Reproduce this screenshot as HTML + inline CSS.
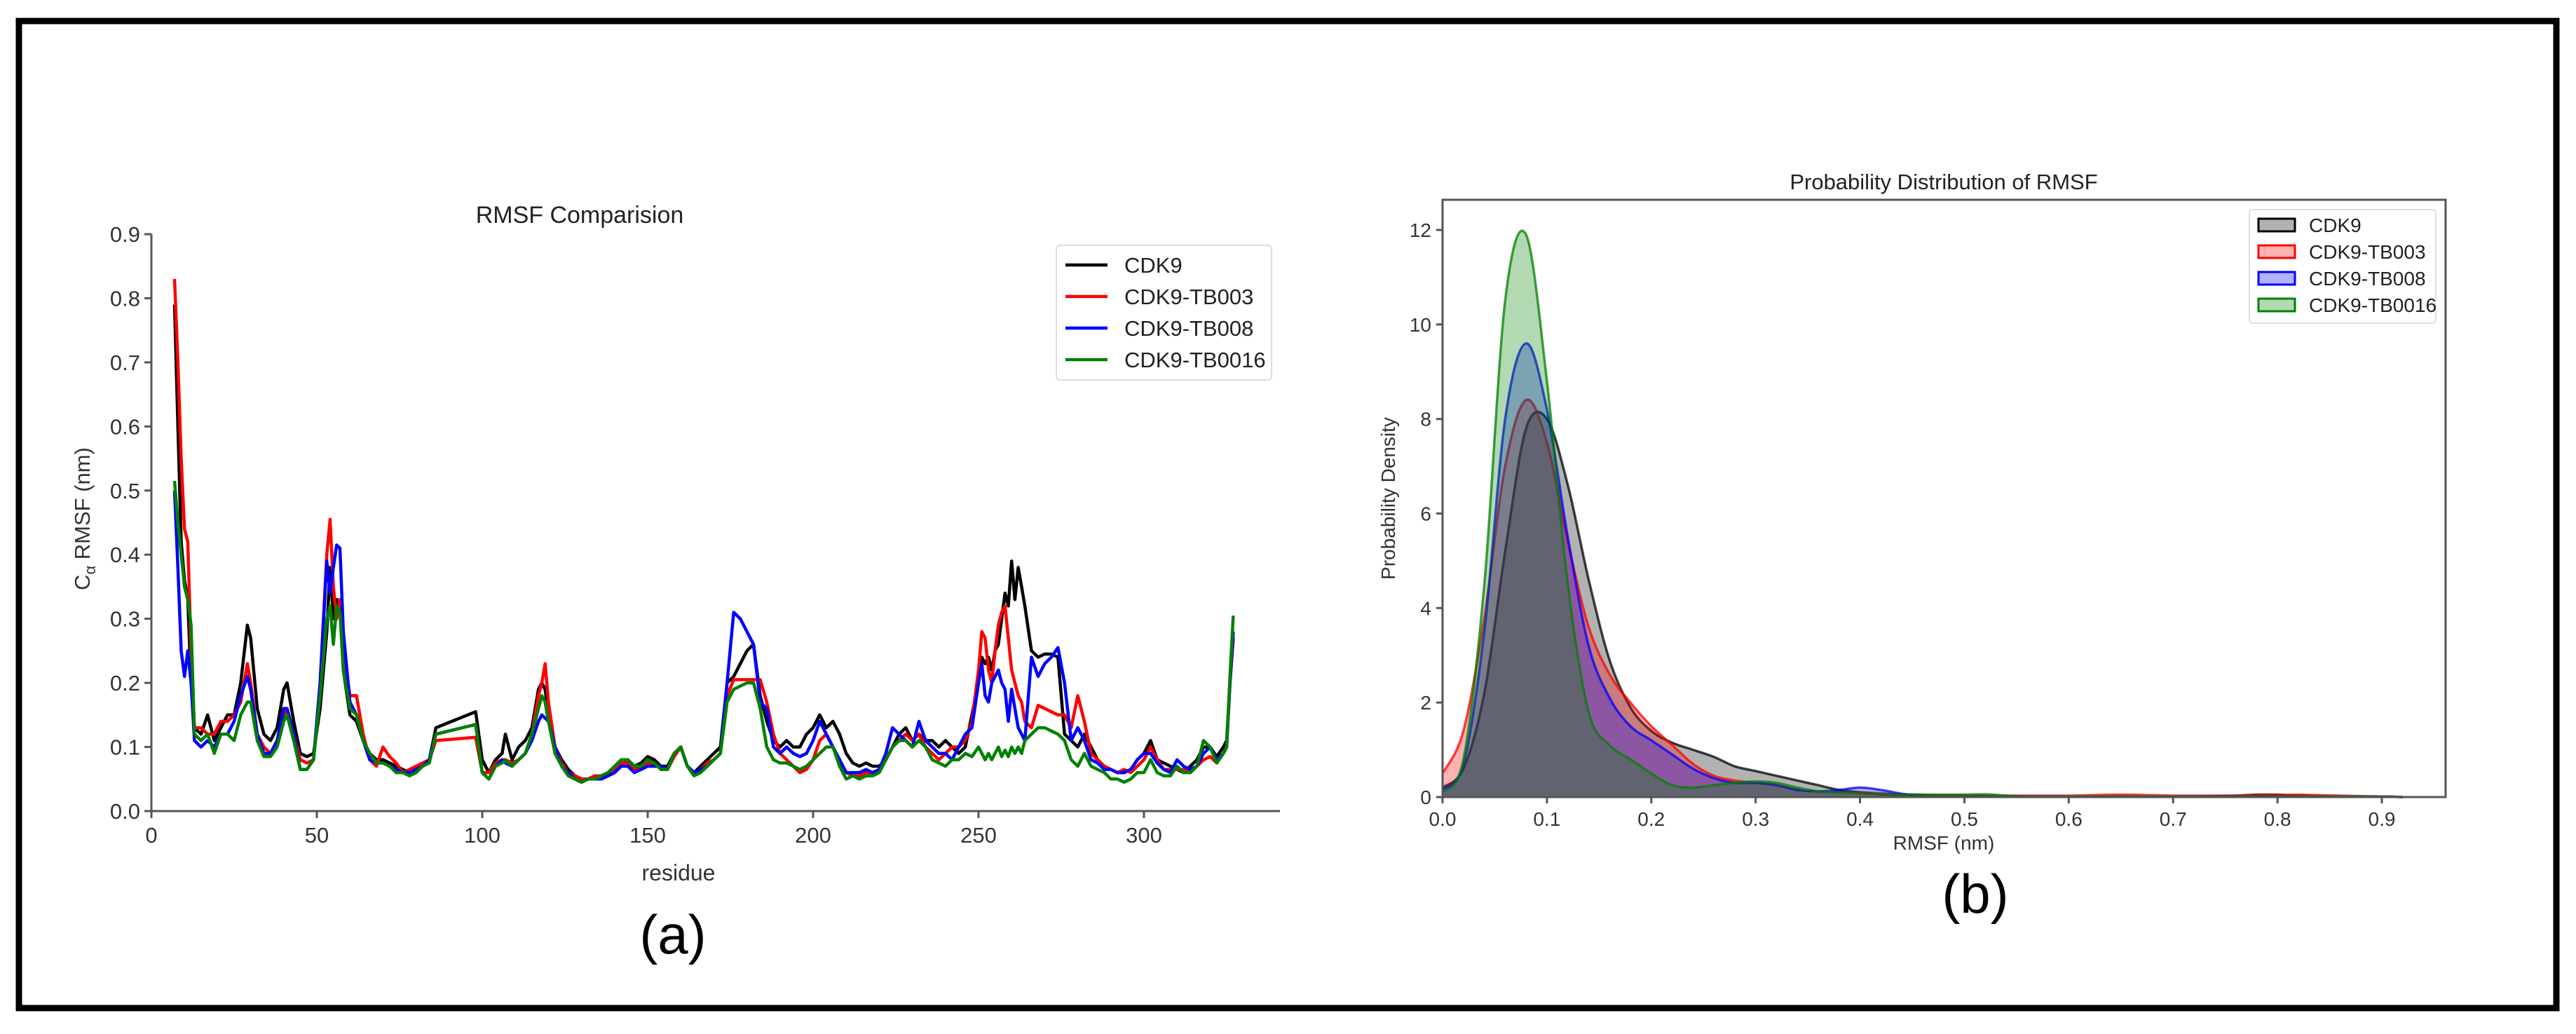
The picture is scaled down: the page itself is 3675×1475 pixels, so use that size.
<!DOCTYPE html>
<html><head><meta charset="utf-8"><style>
html,body{margin:0;padding:0;background:#fff;}
svg{display:block;font-family:"Liberation Sans","DejaVu Sans",sans-serif;}
</style></head><body>
<svg id="fig" width="3675" height="1475" viewBox="0 0 3675 1475" xmlns="http://www.w3.org/2000/svg">
<rect x="0" y="0" width="3675" height="1475" fill="#fff"/>
<rect x="27" y="30" width="3620" height="1408" fill="none" stroke="#000" stroke-width="9"/>
<g id="left"></g>
<g id="right"></g>
</svg>
<script>
const residues=[7,8,9,10,11,12,13,15,17,19,21,23,25,27,29,30,32,34,36,38,40,41,43,45,47,49,51,53,54,55,56,57,58,60,62,64,66,68,70,72,74,76,78,80,82,84,86,98,100,102,104,106,107,109,111,113,115,117,118,119,120,122,124,126,128,130,132,134,136,138,140,142,144,146,148,150,152,154,156,158,160,162,164,166,168,170,172,174,176,178,180,182,184,186,188,190,192,194,196,198,200,202,204,206,208,210,212,214,216,218,220,222,224,226,228,230,232,234,236,238,240,242,244,246,248,250,251,252,253,254,255,256,257,258,259,260,261,262,263,264,266,268,270,272,274,276,278,280,282,284,286,288,290,292,294,296,298,300,302,304,306,308,310,312,314,316,318,320,322,324,325,326,327];
const rmsfCDK9=[0.79,0.60,0.42,0.36,0.33,0.20,0.13,0.12,0.15,0.11,0.13,0.15,0.15,0.20,0.29,0.27,0.16,0.12,0.11,0.13,0.19,0.20,0.14,0.09,0.085,0.09,0.16,0.28,0.38,0.30,0.33,0.32,0.22,0.15,0.14,0.11,0.09,0.08,0.08,0.075,0.07,0.065,0.06,0.065,0.07,0.08,0.13,0.155,0.08,0.06,0.08,0.09,0.12,0.08,0.10,0.11,0.13,0.19,0.20,0.19,0.15,0.10,0.08,0.065,0.055,0.05,0.05,0.05,0.05,0.055,0.06,0.07,0.08,0.07,0.075,0.085,0.08,0.07,0.07,0.09,0.10,0.07,0.06,0.07,0.08,0.09,0.10,0.20,0.21,0.23,0.25,0.26,0.18,0.14,0.11,0.10,0.11,0.10,0.10,0.12,0.13,0.15,0.13,0.14,0.12,0.09,0.075,0.07,0.075,0.07,0.07,0.08,0.10,0.12,0.13,0.11,0.12,0.11,0.11,0.10,0.11,0.10,0.09,0.10,0.15,0.20,0.24,0.23,0.24,0.22,0.25,0.26,0.30,0.34,0.32,0.39,0.33,0.38,0.35,0.32,0.25,0.24,0.245,0.245,0.24,0.12,0.11,0.10,0.12,0.10,0.08,0.07,0.065,0.06,0.06,0.065,0.08,0.09,0.11,0.08,0.075,0.07,0.065,0.06,0.07,0.08,0.10,0.10,0.085,0.10,0.11,0.20,0.27];
const rmsfTB003=[0.83,0.70,0.55,0.44,0.42,0.25,0.13,0.13,0.12,0.12,0.14,0.14,0.15,0.17,0.23,0.20,0.12,0.10,0.09,0.11,0.15,0.16,0.12,0.08,0.075,0.08,0.20,0.40,0.455,0.35,0.30,0.33,0.25,0.18,0.18,0.12,0.08,0.07,0.10,0.085,0.075,0.06,0.065,0.07,0.075,0.08,0.11,0.115,0.06,0.06,0.075,0.08,0.08,0.075,0.08,0.09,0.12,0.18,0.20,0.23,0.17,0.10,0.075,0.06,0.055,0.05,0.05,0.055,0.055,0.06,0.065,0.075,0.075,0.065,0.07,0.075,0.07,0.07,0.065,0.085,0.10,0.07,0.06,0.065,0.075,0.08,0.09,0.18,0.205,0.205,0.205,0.205,0.205,0.17,0.12,0.09,0.08,0.07,0.06,0.065,0.08,0.11,0.12,0.10,0.08,0.06,0.055,0.055,0.06,0.06,0.065,0.08,0.10,0.11,0.12,0.11,0.12,0.10,0.09,0.08,0.09,0.10,0.10,0.11,0.14,0.22,0.28,0.27,0.22,0.20,0.25,0.29,0.31,0.32,0.27,0.22,0.20,0.18,0.17,0.14,0.13,0.165,0.16,0.155,0.15,0.15,0.13,0.18,0.14,0.09,0.08,0.07,0.065,0.06,0.065,0.06,0.07,0.08,0.10,0.08,0.065,0.065,0.065,0.065,0.06,0.07,0.08,0.085,0.075,0.09,0.10,0.20,0.27];
const rmsfTB008=[0.50,0.38,0.25,0.21,0.25,0.20,0.11,0.10,0.11,0.10,0.12,0.12,0.14,0.18,0.21,0.19,0.12,0.09,0.09,0.11,0.16,0.16,0.12,0.065,0.065,0.08,0.20,0.39,0.34,0.38,0.415,0.41,0.28,0.17,0.15,0.11,0.08,0.075,0.075,0.07,0.065,0.06,0.06,0.065,0.07,0.08,0.12,0.135,0.06,0.05,0.07,0.08,0.075,0.07,0.08,0.09,0.11,0.14,0.15,0.145,0.14,0.10,0.07,0.06,0.05,0.045,0.05,0.05,0.05,0.055,0.06,0.07,0.07,0.06,0.065,0.07,0.07,0.07,0.065,0.09,0.10,0.07,0.06,0.065,0.07,0.08,0.09,0.20,0.31,0.30,0.28,0.26,0.17,0.16,0.10,0.09,0.10,0.09,0.085,0.09,0.11,0.14,0.12,0.10,0.08,0.06,0.06,0.06,0.065,0.06,0.065,0.09,0.13,0.12,0.11,0.10,0.14,0.11,0.10,0.09,0.09,0.08,0.10,0.12,0.13,0.20,0.23,0.18,0.17,0.20,0.21,0.22,0.20,0.19,0.14,0.19,0.16,0.13,0.12,0.11,0.24,0.21,0.23,0.24,0.255,0.20,0.11,0.13,0.11,0.08,0.075,0.065,0.065,0.06,0.06,0.065,0.08,0.09,0.09,0.075,0.065,0.06,0.08,0.07,0.065,0.07,0.09,0.10,0.08,0.09,0.10,0.20,0.28];
const rmsfTB0016=[0.515,0.45,0.40,0.35,0.33,0.29,0.12,0.11,0.12,0.09,0.12,0.12,0.11,0.15,0.17,0.17,0.11,0.085,0.085,0.10,0.14,0.15,0.11,0.065,0.065,0.08,0.18,0.30,0.32,0.26,0.32,0.31,0.22,0.16,0.15,0.11,0.09,0.075,0.075,0.07,0.06,0.06,0.055,0.06,0.07,0.075,0.12,0.135,0.06,0.05,0.07,0.075,0.08,0.07,0.08,0.09,0.12,0.16,0.18,0.17,0.14,0.09,0.07,0.055,0.05,0.045,0.05,0.05,0.055,0.06,0.07,0.08,0.08,0.07,0.07,0.08,0.075,0.065,0.065,0.09,0.10,0.07,0.055,0.06,0.07,0.08,0.09,0.17,0.19,0.195,0.20,0.20,0.16,0.10,0.08,0.075,0.075,0.07,0.065,0.07,0.08,0.09,0.10,0.10,0.07,0.05,0.055,0.05,0.055,0.055,0.06,0.08,0.10,0.11,0.11,0.10,0.11,0.10,0.08,0.075,0.07,0.08,0.08,0.09,0.085,0.10,0.09,0.08,0.09,0.08,0.09,0.10,0.085,0.095,0.085,0.10,0.09,0.10,0.09,0.11,0.12,0.13,0.13,0.125,0.12,0.11,0.08,0.07,0.09,0.07,0.065,0.06,0.05,0.05,0.045,0.05,0.06,0.06,0.08,0.06,0.055,0.055,0.07,0.06,0.06,0.07,0.11,0.10,0.075,0.09,0.10,0.21,0.305];
const leftSeriesNames=["CDK9","CDK9-TB003","CDK9-TB008","CDK9-TB0016"];
const leftXTicks=[0,50,100,150,200,250,300];
const leftYTicks=[0.0,0.1,0.2,0.3,0.4,0.5,0.6,0.7,0.8,0.9];

const kdeX=[0,0.02,0.04,0.06,0.08,0.10,0.12,0.14,0.16,0.18,0.20,0.22,0.24,0.26,0.28,0.30,0.32,0.34,0.36,0.38,0.40,0.42,0.44,0.46,0.48,0.50,0.52,0.54,0.56,0.58,0.60,0.62,0.64,0.66,0.68,0.70,0.72,0.74,0.76,0.78,0.80,0.82,0.84,0.86,0.88,0.90,0.92];
const kdeCDK9=[0.2,0.6,2.2,5.2,7.8,8.0,6.6,4.6,2.9,1.9,1.4,1.15,1.0,0.85,0.65,0.55,0.45,0.35,0.25,0.15,0.1,0.06,0.04,0.03,0.02,0.02,0.01,0.01,0.01,0.01,0.01,0.01,0.01,0.01,0.01,0.01,0.01,0.02,0.03,0.05,0.05,0.03,0.02,0.01,0.01,0.01,0];
const kdeTB003=[0.5,1.4,3.8,7.0,8.4,7.5,5.4,3.6,2.6,2.0,1.5,1.1,0.7,0.45,0.35,0.3,0.25,0.15,0.12,0.1,0.1,0.08,0.06,0.05,0.04,0.04,0.03,0.03,0.03,0.03,0.03,0.04,0.05,0.05,0.04,0.03,0.03,0.03,0.03,0.04,0.04,0.05,0.04,0.03,0.02,0.01,0];
const kdeTB008=[0.15,0.7,3.5,8.0,9.6,8.2,5.5,3.2,2.1,1.5,1.2,0.9,0.6,0.4,0.3,0.3,0.25,0.15,0.12,0.15,0.2,0.15,0.07,0.03,0.01,0.01,0.01,0.01,0.01,0.01,0.01,0.01,0.01,0.01,0.01,0.01,0.01,0.01,0.01,0.01,0.01,0.01,0.01,0.01,0.01,0.01,0];
const kdeTB0016=[0.1,0.8,4.5,10.5,11.9,8.8,4.5,1.8,1.1,0.8,0.5,0.25,0.2,0.25,0.3,0.33,0.3,0.2,0.12,0.1,0.08,0.06,0.05,0.05,0.05,0.05,0.06,0.03,0.01,0.01,0.01,0.01,0.01,0.01,0.01,0.01,0.01,0.01,0.01,0.01,0.01,0.01,0.01,0.01,0.01,0.01,0];
const rightXTicks=[0.0,0.1,0.2,0.3,0.4,0.5,0.6,0.7,0.8,0.9];
const rightYTicks=[0,2,4,6,8,10,12];

const NS="http://www.w3.org/2000/svg";
function mk(parent,tag,attrs,text){const e=document.createElementNS(NS,tag);for(const k in attrs)e.setAttribute(k,attrs[k]);if(text!==undefined)e.textContent=text;parent.appendChild(e);return e;}
const colors=["#000000","#ff0000","#0000ff","#008000"];

// ---------- LEFT CHART ----------
const L=document.getElementById('left');
const lx=v=>216+v*(1632-216)/300;
const ly=v=>1157-v*(1157-334)/0.9;
let t;
t=mk(L,'text',{x:827,y:318,'font-size':34,'text-anchor':'middle',fill:'#222'},'RMSF Comparision');


const lAxis=mk(L,'g',{});


mk(lAxis,'line',{x1:216,y1:1157,x2:1826,y2:1157,stroke:'#555','stroke-width':3});
mk(lAxis,'line',{x1:216,y1:334,x2:216,y2:1157,stroke:'#555','stroke-width':3});
leftXTicks.forEach(v=>{
  mk(lAxis,'line',{x1:lx(v),y1:1157,x2:lx(v),y2:1167,stroke:'#555','stroke-width':3});
  const e=mk(lAxis,'text',{x:lx(v),y:1202,'font-size':31,'text-anchor':'middle',fill:'#333'},String(v));
  
  
});
leftYTicks.forEach(v=>{
  mk(lAxis,'line',{x1:206,y1:ly(v),x2:216,y2:ly(v),stroke:'#555','stroke-width':3});
  const e=mk(lAxis,'text',{x:200,y:ly(v)+11,'font-size':31,'text-anchor':'end',fill:'#333'},v.toFixed(1));
  
  
});
t=mk(L,'text',{x:968,y:1256,'font-size':32,'text-anchor':'middle',fill:'#333'},'residue');


t=mk(L,'text',{transform:'translate(128,740) rotate(-90)','font-size':31,'text-anchor':'middle',fill:'#333'});


t.innerHTML='C<tspan font-size="22" dy="8">α</tspan><tspan dy="-8"> RMSF (nm)</tspan>';
t=mk(L,'text',{x:960,y:1360,'font-size':78,'text-anchor':'middle',fill:'#000'},'(a)');


const leftData=[rmsfCDK9,rmsfTB003,rmsfTB008,rmsfTB0016];
leftData.forEach((arr,i)=>{
  const n=Math.min(arr.length,residues.length);
  let d='';
  for(let k=0;k<n;k++)d+=(k?'L':'M')+lx(residues[k]).toFixed(1)+','+ly(arr[k]).toFixed(1);
  const p=mk(L,'path',{d:d,fill:'none',stroke:colors[i],'stroke-width':4.5,'stroke-linejoin':'round'});
  
  
});
const lg=mk(L,'g',{});


mk(lg,'rect',{x:1507,y:350,width:307,height:192,rx:5,fill:'#fff',stroke:'#ddd','stroke-width':2});
leftSeriesNames.forEach((nm,i)=>{
  const y=378+i*45;
  mk(lg,'line',{x1:1520,y1:y,x2:1580,y2:y,stroke:colors[i],'stroke-width':4.5});
  const e=mk(lg,'text',{x:1604,y:y+11,'font-size':31,fill:'#222'},nm);
  
  
});

// ---------- RIGHT CHART ----------
const R=document.getElementById('right');
const rx=v=>2058+v*(3398-2058)/0.9;
const ry=v=>1137-v*(1137-328)/12;
t=mk(R,'text',{x:2773,y:270,'font-size':31,'text-anchor':'middle',fill:'#222'},'Probability Distribution of RMSF');


function smooth(xs,ys){
  const pts=xs.map((x,i)=>[rx(x),ry(ys[i])]);
  let d='M'+pts[0][0]+','+pts[0][1];
  for(let i=0;i<pts.length-1;i++){
    const p0=pts[Math.max(0,i-1)],p1=pts[i],p2=pts[i+1],p3=pts[Math.min(pts.length-1,i+2)];
    const c1=[p1[0]+(p2[0]-p0[0])/6,p1[1]+(p2[1]-p0[1])/6];
    const c2=[p2[0]-(p3[0]-p1[0])/6,p2[1]-(p3[1]-p1[1])/6];
    d+='C'+c1[0].toFixed(1)+','+Math.min(c1[1],1137).toFixed(1)+' '+c2[0].toFixed(1)+','+Math.min(c2[1],1137).toFixed(1)+' '+p2[0].toFixed(1)+','+p2[1].toFixed(1);
  }
  return d;
}
const rightData=[kdeCDK9,kdeTB003,kdeTB008,kdeTB0016];
const fillOps=[0.3,0.3,0.3,0.3];
rightData.forEach((arr,i)=>{
  const n=Math.min(arr.length,kdeX.length);
  const xs=kdeX.slice(0,n),ys=arr.slice(0,n);
  const line=smooth(xs,ys);
  const area=line+'L'+rx(xs[n-1])+','+ry(0)+'L'+rx(xs[0])+','+ry(0)+'Z';
  const a=mk(R,'path',{d:area,fill:colors[i],'fill-opacity':fillOps[i],stroke:'none'});
  
  
  const l=mk(R,'path',{d:line,fill:'none',stroke:colors[i],'stroke-opacity':0.75,'stroke-width':3.5});
  
  
});
const rAxis=mk(R,'g',{});


mk(rAxis,'rect',{x:2058,y:285,width:3489-2058,height:1137-285,fill:'none',stroke:'#555','stroke-width':3});
rightXTicks.forEach(v=>{
  mk(rAxis,'line',{x1:rx(v),y1:1137,x2:rx(v),y2:1146,stroke:'#555','stroke-width':3});
  const e=mk(rAxis,'text',{x:rx(v),y:1178,'font-size':28,'text-anchor':'middle',fill:'#333'},v.toFixed(1));
  
  
});
rightYTicks.forEach(v=>{
  mk(rAxis,'line',{x1:2049,y1:ry(v),x2:2058,y2:ry(v),stroke:'#555','stroke-width':3});
  const e=mk(rAxis,'text',{x:2042,y:ry(v)+10,'font-size':28,'text-anchor':'end',fill:'#333'},String(v));
  
  
});
t=mk(R,'text',{x:2773,y:1212,'font-size':28,'text-anchor':'middle',fill:'#333'},'RMSF (nm)');


t=mk(R,'text',{transform:'translate(1990,711) rotate(-90)','font-size':28,'text-anchor':'middle',fill:'#333'},'Probability Density');


t=mk(R,'text',{x:2818,y:1302,'font-size':78,'text-anchor':'middle',fill:'#000'},'(b)');


const rg=mk(R,'g',{});


mk(rg,'rect',{x:3209,y:299,width:266,height:162,rx:5,fill:'#fff','fill-opacity':0.85,stroke:'#ddd','stroke-width':2});
leftSeriesNames.forEach((nm,i)=>{
  const y=321+i*38;
  mk(rg,'rect',{x:3222,y:y-9,width:52,height:18,fill:colors[i],'fill-opacity':0.3,stroke:colors[i],'stroke-width':3});
  const e=mk(rg,'text',{x:3294,y:y+10,'font-size':28,fill:'#222'},nm);
  
  
});
</script>
</body></html>
